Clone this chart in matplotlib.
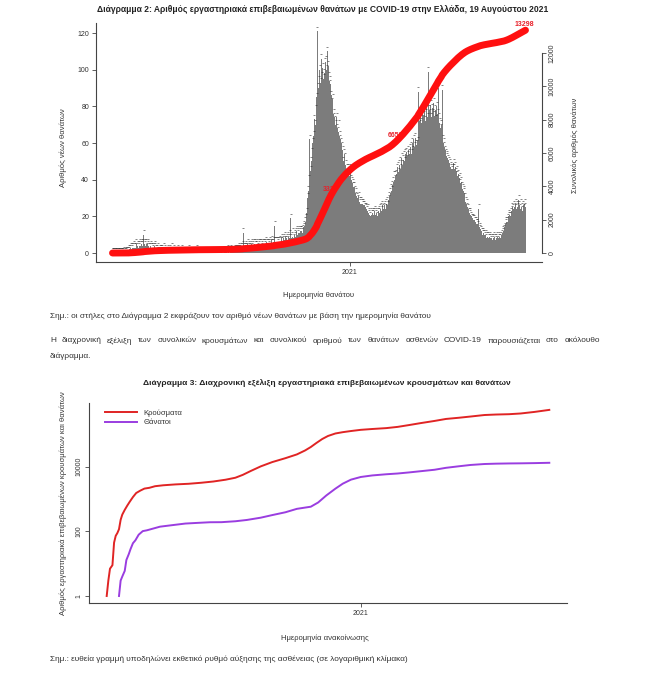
import numpy as np
import pandas as pd
import matplotlib
matplotlib.use("Agg")
import matplotlib.pyplot as plt
from matplotlib import font_manager

installed = {f.name for f in font_manager.fontManager.ttflist}
narrow = "Liberation Sans Narrow" if "Liberation Sans Narrow" in installed else "Liberation Sans"
plt.rcParams["font.family"] = [narrow, "DejaVu Sans"]

# ---------------- Διάγραμμα 2: daily deaths by date of death (from 2020-02-26) ----------------
d2020_02 = [0, 0, 0, 0]
d2020_03 = [0] * 11 + [1, 0, 1, 0, 1, 1, 1, 2, 2, 3, 2, 3, 3, 4, 3, 3, 5, 3, 4, 3]
d2020_04 = [4, 5, 4, 5, 4, 5, 10, 5, 4, 5, 3, 5, 4, 3, 3, 4, 3, 3, 2, 3, 4, 3, 2, 2, 3, 1, 1, 2, 2, 1]
d2020_05 = [2, 1, 3, 1, 2, 1, 0, 2, 1, 1, 2, 0, 1, 3, 1, 2, 1, 0, 1, 1, 2, 0, 1, 1, 0, 1, 2, 0, 1, 1, 0]
d2020_06 = [1, 0, 1, 0, 2, 1, 0, 1, 0, 0, 1, 1, 0, 1, 0, 2, 0, 1, 0, 0, 1, 0, 1, 0, 1, 0, 0, 1, 0, 1]
d2020_07 = [0, 1, 0, 0, 1, 0, 1, 0, 0, 1, 0, 1, 0, 0, 1, 0, 1, 1, 0, 0, 1, 0, 1, 1, 0, 2, 1, 0, 1, 2, 1]
d2020_08 = [1, 1, 1, 2, 2, 1, 2, 2, 3, 2, 2, 3, 3, 4, 11, 3, 3, 4, 3, 3, 5, 4, 3, 3, 4, 5, 3, 4, 5, 5, 4]
d2020_09 = [4, 5, 3, 5, 4, 5, 5, 4, 3, 5, 5, 4, 5, 6, 5, 5, 4, 5, 6, 5, 7, 5, 5, 6, 15, 6, 6, 6, 5, 6]
d2020_10 = [6, 7, 6, 8, 6, 7, 8, 7, 9, 7, 8, 7, 9, 8, 10, 19, 8, 9, 11, 8, 10, 9, 11, 12, 10, 11, 12, 11, 12, 12, 11]
d2020_11 = [13, 14, 15, 17, 19, 22, 30, 34, 40, 62, 45, 50, 55, 60, 64, 73, 70, 78, 85, 121,
            90, 94, 100, 93, 106, 96, 101, 95, 98, 104]
d2020_12 = [105, 100, 110, 102, 96, 94, 92, 86, 82, 84, 76, 74, 72, 70, 74, 68, 66, 70, 64, 62,
            60, 58, 56, 50, 54, 52, 48, 46, 44, 46, 43]
d2021_01 = [42, 46, 40, 39, 38, 36, 36, 34, 33, 31, 30, 29, 31, 28, 27, 28, 27, 27, 26, 26,
            25, 25, 24, 23, 24, 22, 21, 20, 22, 21, 22]
d2021_02 = [21, 22, 23, 21, 22, 20, 22, 23, 22, 24, 25, 23, 26, 24, 25, 26, 24, 27, 28, 26,
            29, 31, 33, 35, 34, 37, 39, 42]
d2021_03 = [40, 42, 43, 46, 47, 44, 48, 50, 46, 52, 48, 51, 53, 50, 54, 55, 51, 53, 56, 54,
            57, 58, 54, 60, 56, 62, 58, 63, 59, 59, 61]
d2021_04 = [88, 72, 70, 74, 71, 76, 73, 75, 78, 72, 76, 80, 74, 99, 78, 76, 81, 74, 79, 76,
            82, 75, 78, 73, 80, 76, 90, 74, 71, 68]
d2021_05 = [70, 89, 62, 60, 58, 56, 54, 53, 52, 51, 50, 49, 47, 46, 45, 46, 49, 46, 47, 44,
            45, 42, 43, 40, 41, 38, 39, 36, 35, 34, 33]
d2021_06 = [30, 28, 27, 25, 24, 22, 22, 21, 20, 19, 19, 18, 18, 17, 17, 16, 16, 15, 24, 14,
            13, 12, 11, 10, 11, 10, 9, 10, 8, 9]
d2021_07 = [9, 8, 9, 8, 7, 8, 7, 8, 9, 8, 7, 8, 9, 7, 8, 9, 8, 9, 10, 11,
            12, 13, 14, 16, 17, 17, 19, 20, 21, 20, 22]
d2021_08 = [23, 25, 24, 26, 25, 27, 24, 26, 25, 29, 26, 24, 27, 25, 23, 26, 24, 27, 25]
milestones = [3325, 6650, 13298]

# ---------------- Διάγραμμα 3: cumulative cases / deaths (log scale) ----------------
case_dates = ["2020-02-26", "2020-02-28", "2020-03-01", "2020-03-04", "2020-03-06", "2020-03-08",
              "2020-03-10", "2020-03-12", "2020-03-14", "2020-03-16", "2020-03-19", "2020-03-22",
              "2020-03-25", "2020-03-29", "2020-04-02", "2020-04-07", "2020-04-12", "2020-04-18",
              "2020-04-25", "2020-05-05", "2020-05-20", "2020-06-05", "2020-06-20", "2020-07-05",
              "2020-07-20", "2020-08-01", "2020-08-10", "2020-08-20", "2020-09-01", "2020-09-15",
              "2020-10-01", "2020-10-15", "2020-10-25", "2020-11-01", "2020-11-08", "2020-11-15",
              "2020-11-22", "2020-12-01", "2020-12-10", "2020-12-20", "2021-01-01", "2021-01-15",
              "2021-02-01", "2021-02-15", "2021-03-01", "2021-03-15", "2021-04-01", "2021-04-15",
              "2021-05-01", "2021-05-15", "2021-06-01", "2021-06-15", "2021-07-01", "2021-07-15",
              "2021-08-01", "2021-08-19"]
case_values = [1, 3, 7, 9, 45, 73, 89, 117, 228, 331, 464, 624, 821, 1156, 1544, 1832, 2114, 2235,
               2506, 2678, 2850, 2980, 3200, 3500, 3980, 4587, 5623, 7472, 10317, 14000, 18475,
               24166, 32000, 40929, 55000, 72510, 90000, 107470, 118000, 128000, 139447, 148000,
               157499, 172000, 196140, 225000, 262929, 303000, 330446, 360000, 401000, 415000,
               425000, 447000, 500000, 578000]
death_dates = ["2020-03-12", "2020-03-14", "2020-03-16", "2020-03-19", "2020-03-21", "2020-03-24",
               "2020-03-26", "2020-03-29", "2020-04-01", "2020-04-05", "2020-04-10", "2020-04-15",
               "2020-04-22", "2020-05-01", "2020-05-15", "2020-06-01", "2020-06-15", "2020-07-01",
               "2020-07-15", "2020-08-01", "2020-08-15", "2020-09-01", "2020-09-15", "2020-10-01",
               "2020-10-15", "2020-11-01", "2020-11-10", "2020-11-20", "2020-12-01", "2020-12-10",
               "2020-12-20", "2021-01-01", "2021-01-15", "2021-02-01", "2021-02-15", "2021-03-01",
               "2021-03-15", "2021-04-01", "2021-04-15", "2021-05-01", "2021-05-15", "2021-06-01",
               "2021-06-15", "2021-07-01", "2021-07-15", "2021-08-01", "2021-08-19"]
death_values = [1, 3, 4, 6, 13, 20, 28, 43, 53, 79, 102, 108, 121, 140, 155, 175, 183, 192, 193,
                206, 226, 266, 320, 391, 499, 581, 786, 1300, 2102, 3000, 4000, 4838, 5400, 5870,
                6200, 6700, 7300, 8100, 9300, 10400, 11400, 12200, 12500, 12700, 12800, 13000, 13298]

W, H = 650, 675
def px_box(x0, y_top, x1, y_bot):
    return [x0 / W, 1 - y_bot / H, (x1 - x0) / W, (y_bot - y_top) / H]

RED = "#ff1010"
TXT = "#333333"
fig = plt.figure(figsize=(6.5, 6.75), dpi=100)

# ---------- chart 2 ----------
daily = np.concatenate([d2020_02, d2020_03, d2020_04, d2020_05, d2020_06, d2020_07, d2020_08,
                        d2020_09, d2020_10, d2020_11, d2020_12, d2021_01, d2021_02, d2021_03,
                        d2021_04, d2021_05, d2021_06, d2021_07, d2021_08])
days = pd.date_range("2020-02-26", periods=len(daily), freq="D")
cum = np.cumsum(daily)
pad = (days[-1] - days[0]) * 0.04

ax1 = fig.add_axes(px_box(96, 23, 542, 262))
ax1.bar(days, daily, width=1.0, color="#7c7c7c", linewidth=0)
ax1.scatter(days, daily + 2.5, marker="_", s=4, color="#2a2a2a", linewidths=0.5, alpha=0.8)
ax1.set_xlim(days[0] - pad, days[-1] + pad)
ax1.set_ylim(-4.9, 125.5)
ax1.set_yticks(range(0, 121, 20))
ax1.set_xticks([pd.Timestamp("2021-01-01")])
ax1.set_xticklabels(["2021"])
for s in ["top", "right"]:
    ax1.spines[s].set_visible(False)
for s in ["left", "bottom"]:
    ax1.spines[s].set_linewidth(0.8)
    ax1.spines[s].set_color("#444444")
ax1.tick_params(labelsize=5, length=3, width=0.6, color="#444444", labelcolor=TXT, pad=2)
ax1.set_ylabel("Αριθμός νέων θανάτων", fontsize=5.5, color=TXT)
ax1.yaxis.set_label_coords(-0.065, 0.48)
ax1.set_xlabel("Ημερομηνία θανάτου", fontsize=5.5, color=TXT)
ax1.xaxis.set_label_coords(0.5, -0.125)

ax2 = ax1.twinx()
ax2.plot(days, cum, color=RED, lw=5, solid_capstyle="round", zorder=3)
ax2.set_ylim(-540, 13800)
ax2.set_yticks(range(0, 12001, 2000))
ax2.set_yticklabels([str(v) for v in range(0, 12001, 2000)], rotation=90, va="center")
for s in ["top", "left", "bottom"]:
    ax2.spines[s].set_visible(False)
ax2.spines["right"].set_bounds(0, 12000)
ax2.spines["right"].set_linewidth(0.8)
ax2.spines["right"].set_color("#444444")
ax2.tick_params(labelsize=5, length=3, width=0.6, color="#444444", labelcolor=TXT, pad=2)
ax2.set_ylabel("Συνολικός αριθμός θανάτων", fontsize=5.5, color=TXT, rotation=90)
ax2.yaxis.set_label_coords(1.067, 0.49)
for m in milestones:
    i = int(np.argmax(cum >= m))
    ax2.annotate(str(m), (days[i], cum[i]), xytext=(0, 5), textcoords="offset points",
                 ha="center", va="center", fontsize=5, color="#e8202a",
                 fontweight="bold", zorder=1)

fig.text(323 / W, 1 - 10 / H, "Διάγραμμα 2: Αριθμός εργαστηριακά επιβεβαιωμένων θανάτων με COVID-19 στην Ελλάδα, 19 Αυγούστου 2021",
         ha="center", va="center", fontsize=6.15, fontweight="bold", color="#222222")

# ---------- text between the charts ----------
body = dict(fontsize=5.95, color=TXT, va="center", ha="left")


def justified(line, x0, x1, y):
    # spread the words of one line between x0 and x1 (pixels), like the justified paragraph
    words = line.split()
    items = [fig.text(0, 1 - y / H, w, **body) for w in words]
    r = fig.canvas.get_renderer()
    widths = [t.get_window_extent(r).width for t in items]
    gap = (x1 - x0 - sum(widths)) / (len(words) - 1)
    x = x0
    for t, w in zip(items, widths):
        t.set_x(x / W)
        x += w + gap


fig.text(50 / W, 1 - 316 / H, "Σημ.: οι στήλες στο Διάγραμμα 2 εκφράζουν τον αριθμό νέων θανάτων με βάση την ημερομηνία θανάτου", **body)
justified("Η διαχρονική εξέλιξη των συνολικών κρουσμάτων και συνολικού αριθμού των θανάτων ασθενών COVID-19 παρουσιάζεται στο ακόλουθο",
          50, 600, 341)
fig.text(50 / W, 1 - 356 / H, "διάγραμμα.", **body)
fig.text(327 / W, 1 - 383 / H, "Διάγραμμα 3: Διαχρονική εξέλιξη εργαστηριακά επιβεβαιωμένων κρουσμάτων και θανάτων",
         ha="center", va="center", fontsize=6.0, fontweight="bold", color="#222222")

# ---------- chart 3 ----------
cd = pd.to_datetime(case_dates)
dd = pd.to_datetime(death_dates)
pad3 = (cd[-1] - cd[0]) * 0.04
ax3 = fig.add_axes(px_box(89, 403, 567, 603))
ax3.plot(cd, case_values, color="#e02424", lw=1.4, label="Κρούσματα")
ax3.plot(dd, death_values, color="#9a3de0", lw=1.4, label="Θάνατοι")
ax3.set_yscale("log")
ax3.set_ylim(0.607, 944000)
ax3.set_xlim(cd[0] - pad3, cd[-1] + pad3)
ax3.set_yticks([1, 100, 10000])
ax3.set_yticklabels(["1", "100", "10000"], rotation=90, va="center")
ax3.minorticks_off()
ax3.set_xticks([pd.Timestamp("2021-01-01")])
ax3.set_xticklabels(["2021"])
for s in ["top", "right"]:
    ax3.spines[s].set_visible(False)
for s in ["left", "bottom"]:
    ax3.spines[s].set_linewidth(0.8)
    ax3.spines[s].set_color("#444444")
ax3.tick_params(labelsize=5, length=3, width=0.6, color="#444444", labelcolor=TXT, pad=2)
ax3.set_ylabel("Αριθμός εργαστηριακά επιβεβαιωμένων κρουσμάτων και θανάτων", fontsize=5.5, color=TXT)
ax3.yaxis.set_label_coords(-0.045, 0.5)
ax3.set_xlabel("Ημερομηνία ανακοίνωσης", fontsize=5.5, color=TXT)
ax3.xaxis.set_label_coords(0.494, -0.155)
ax3.legend(loc="upper left", bbox_to_anchor=(0.027, 0.985), frameon=False, fontsize=5.5,
           handlelength=4.2, labelspacing=0.3, borderaxespad=0, labelcolor=TXT)

fig.text(50 / W, 1 - 659 / H, "Σημ.: ευθεία γραμμή υποδηλώνει εκθετικό ρυθμό αύξησης της ασθένειας (σε λογαριθμική κλίμακα)", **body)

fig.savefig("out.png", dpi=100)
